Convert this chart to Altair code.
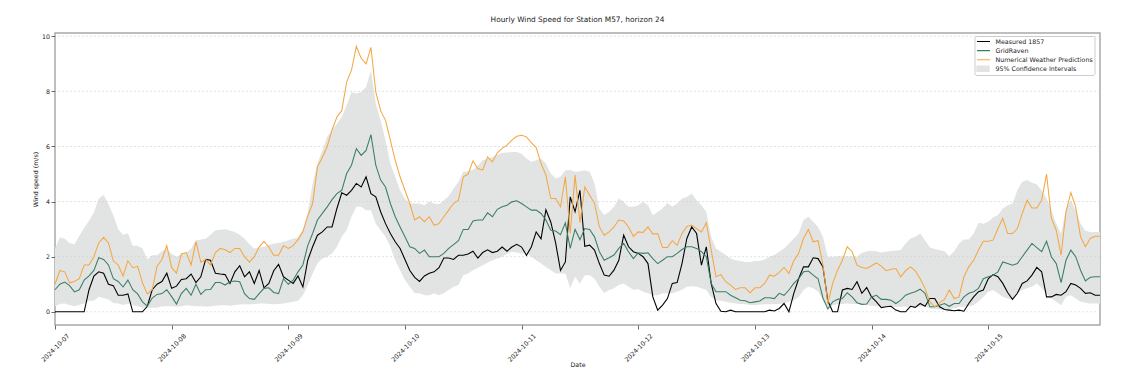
import altair as alt
import pandas as pd

# ---------------- data (hourly) ----------------
START = "2024-10-07 00:00"

measured = (
    [0, 0, 0, 0, 0, 0, 0, 0.8, 1.3, 1.45, 1.4, 1.0, 0.95, 0.6, 0.6, 0.65, 0, 0, 0, 0.2, 0.8, 1.0, 1.1, 1.4]
    + [0.85, 0.93, 1.17, 1.2, 1.37, 1.06, 1.27, 1.9, 1.87, 1.4, 1.37, 1.35, 1.03, 1.45, 1.67, 1.27, 1.45, 1.03, 1.5, 0.87, 1.03, 1.49, 1.72, 1.27]
    + [1.15, 1.03, 1.3, 0.9, 1.87, 2.36, 2.78, 2.9, 3.08, 3.08, 3.75, 4.32, 4.23, 4.41, 4.66, 4.53, 4.9, 4.29, 4.17, 3.63, 3.2, 2.84, 2.54, 2.3]
    + [1.9, 1.5, 1.25, 1.1, 1.3, 1.4, 1.45, 1.6, 1.95, 1.95, 1.9, 2.05, 2.05, 2.1, 2.2, 1.95, 2.15, 2.25, 2.15, 2.2, 2.35, 2.2, 2.35, 2.45]
    + [2.35, 2.05, 2.35, 2.9, 2.65, 3.7, 3.26, 2.5, 1.5, 1.81, 4.17, 3.63, 4.41, 2.38, 2.42, 2.24, 1.75, 1.33, 1.29, 1.51, 1.87, 2.78, 2.36, 2.18]
    + [2.12, 2.0, 1.75, 0.54, 0.06, 0.24, 0.48, 1.03, 1.06, 1.75, 2.66, 3.08, 2.84, 1.69, 2.36, 1.03, 0.3, 0.02, 0, 0.06, 0, 0, 0, 0]
    + [0, 0, 0, 0.06, 0.03, 0.12, 0.3, 0, 0.67, 1.2, 1.63, 1.63, 1.96, 1.93, 1.63, 0.4, 0, 0, 0.79, 0.85, 0.81, 1.09, 0.67, 0.88]
    + [0.54, 0.36, 0.15, 0.18, 0.2, 0.06, 0, 0, 0.2, 0.16, 0.3, 0.2, 0.48, 0.48, 0.18, 0.08, 0.06, 0.04, 0.06, 0.02, 0.3, 0.54, 0.73, 0.79]
    + [1.2, 1.35, 1.27, 1.03, 0.7, 0.45, 0.67, 1.03, 1.12, 1.33, 1.61, 1.45, 0.54, 0.54, 0.63, 0.6, 0.73, 1.03, 0.97, 0.85, 0.67, 0.69, 0.6, 0.6]
)

gridraven = (
    [0.8, 1.0, 1.08, 0.95, 0.72, 0.8, 1.15, 1.3, 1.5, 1.96, 1.9, 1.7, 1.2, 1.1, 0.9, 1.15, 0.8, 0.65, 0.36, 0.2, 0.5, 0.63, 0.66, 0.8]
    + [0.55, 0.28, 0.66, 0.85, 0.6, 1.0, 0.63, 0.8, 0.81, 1.06, 1.06, 0.97, 1.09, 1.12, 1.09, 0.66, 0.48, 0.45, 0.66, 0.85, 0.87, 0.7, 0.66, 1.2]
    + [1.0, 1.15, 1.45, 1.7, 2.4, 2.84, 3.33, 3.57, 3.81, 4.07, 4.29, 4.41, 5.02, 5.32, 5.92, 5.68, 5.86, 6.43, 5.32, 4.78, 4.53, 3.93, 3.45, 3.08]
    + [2.72, 2.36, 2.3, 2.12, 2.24, 2.0, 2.0, 2.0, 2.12, 2.3, 2.44, 2.58, 2.99, 2.99, 3.3, 3.33, 3.33, 3.59, 3.45, 3.72, 3.81, 3.87, 3.99, 4.03]
    + [3.93, 3.81, 3.69, 3.69, 3.57, 3.33, 2.96, 2.93, 2.8, 3.23, 2.3, 2.99, 2.62, 3.02, 2.99, 2.72, 2.18, 1.87, 1.96, 2.06, 2.3, 2.48, 2.18, 1.93]
    + [2.14, 2.12, 2.14, 1.93, 1.75, 1.87, 2.0, 2.0, 2.12, 2.26, 2.36, 2.36, 2.3, 2.18, 2.0, 1.03, 0.73, 0.73, 0.73, 0.6, 0.51, 0.42, 0.4, 0.33]
    + [0.36, 0.39, 0.51, 0.51, 0.48, 0.67, 0.6, 0.79, 1.03, 1.2, 1.45, 1.48, 1.33, 1.2, 0.5, 0.1, 0.36, 0.45, 0.48, 0.69, 0.54, 0.33, 0.27, 0.28]
    + [0.54, 0.6, 0.45, 0.45, 0.42, 0.3, 0.42, 0.6, 0.67, 0.73, 0.82, 0.67, 0.18, 0.18, 0.24, 0.3, 0.2, 0.3, 0.3, 0.54, 0.67, 0.73, 0.85, 1.2]
    + [1.27, 1.33, 1.45, 1.81, 1.75, 1.69, 1.75, 2.0, 2.24, 2.48, 2.33, 2.18, 2.56, 2.0, 1.75, 1.06, 1.87, 2.24, 2.0, 1.51, 1.12, 1.25, 1.27, 1.27]
)

nwp = (
    [1.0, 1.5, 1.45, 1.05, 1.1, 1.2, 1.7, 1.7, 2.0, 2.5, 2.7, 2.5, 1.85, 1.7, 1.3, 1.85, 1.6, 1.65, 1.05, 0.65, 0.8, 1.65, 1.9, 2.4]
    + [1.6, 1.4, 2.1, 2.15, 1.7, 2.55, 1.8, 1.9, 1.7, 2.15, 2.3, 2.25, 2.15, 2.3, 2.3, 2.0, 1.8, 2.0, 2.35, 2.55, 2.35, 2.05, 2.05, 2.4]
    + [2.3, 2.4, 2.62, 2.9, 3.47, 3.93, 5.26, 5.6, 6.0, 6.6, 7.07, 7.3, 8.34, 8.77, 9.64, 9.2, 9.0, 9.6, 7.98, 7.3, 6.95, 6.23, 5.5, 4.9]
    + [4.41, 3.93, 3.33, 3.45, 3.27, 3.45, 3.14, 3.2, 3.45, 3.69, 3.93, 4.05, 4.9, 5.0, 5.48, 5.2, 5.14, 5.62, 5.44, 5.77, 5.93, 6.05, 6.23, 6.37]
    + [6.41, 6.35, 6.14, 5.96, 5.38, 4.96, 4.11, 4.11, 3.81, 4.9, 2.84, 4.96, 3.23, 4.53, 4.23, 3.93, 3.08, 2.78, 2.9, 3.08, 3.33, 3.3, 3.08, 2.74]
    + [2.9, 2.88, 3.08, 2.82, 2.84, 2.33, 2.33, 2.58, 2.42, 2.84, 3.1, 3.15, 3.02, 2.9, 3.23, 2.24, 1.27, 1.35, 1.09, 0.97, 0.81, 0.87, 0.87, 0.69]
    + [0.87, 0.87, 1.03, 1.33, 1.29, 1.43, 1.61, 1.39, 1.85, 2.12, 2.66, 2.99, 2.54, 2.58, 1.7, 0.3, 1.03, 1.51, 1.87, 2.36, 2.18, 1.69, 1.61, 1.57]
    + [1.67, 1.78, 1.66, 1.49, 1.54, 1.57, 1.27, 1.49, 1.63, 1.49, 1.2, 0.85, 0.36, 0.18, 0.33, 0.45, 0.79, 0.48, 0.54, 1.27, 1.63, 1.87, 2.24, 2.56]
    + [2.56, 2.6, 3.02, 3.39, 2.84, 2.84, 3.02, 3.57, 4.05, 3.77, 3.77, 4.05, 5.0, 3.39, 2.96, 2.06, 3.63, 4.33, 3.81, 2.72, 2.36, 2.66, 2.74, 2.74]
)

ci_upper = (
    [2.3, 2.7, 2.65, 2.5, 2.45, 2.75, 3.05, 3.3, 3.6, 4.1, 4.25, 3.9, 3.5, 3.0, 2.8, 2.85, 2.4, 2.4, 2.3, 1.9, 2.05, 2.05, 2.2, 2.3]
    + [2.1, 2.0, 2.1, 2.15, 2.3, 2.6, 2.62, 2.65, 2.8, 2.96, 2.98, 3.0, 2.95, 2.9, 2.8, 2.65, 2.45, 2.3, 2.33, 2.36, 2.42, 2.48, 2.5, 2.54]
    + [2.6, 2.65, 2.7, 3.0, 3.6, 4.65, 5.4, 5.86, 6.35, 6.6, 6.83, 7.07, 7.5, 7.98, 7.92, 7.98, 8.16, 8.77, 7.56, 6.95, 6.23, 5.38, 4.9, 4.41]
    + [4.1, 3.93, 3.93, 3.93, 3.87, 4.0, 3.93, 3.9, 4.05, 4.2, 4.47, 4.72, 5.08, 5.1, 5.16, 5.3, 5.5, 5.55, 5.62, 5.7, 5.77, 5.78, 5.8, 5.8]
    + [5.74, 5.56, 5.44, 5.5, 5.56, 5.38, 5.02, 4.84, 4.9, 5.14, 5.15, 5.08, 5.1, 5.14, 5.08, 4.66, 3.75, 3.5, 3.63, 3.81, 4.11, 3.99, 3.81, 3.81]
    + [3.87, 3.99, 3.87, 3.5, 3.63, 3.75, 3.95, 3.81, 3.93, 4.11, 4.17, 4.29, 4.05, 3.87, 3.63, 2.72, 2.3, 2.18, 2.06, 1.93, 1.87, 1.84, 1.81, 1.81]
    + [1.84, 1.84, 1.9, 2.0, 2.06, 2.18, 2.3, 2.48, 2.66, 2.84, 3.33, 3.45, 3.27, 3.08, 2.72, 2.0, 2.0, 2.02, 2.02, 2.02, 2.02, 2.0, 2.14, 2.2]
    + [2.21, 2.2, 2.15, 2.18, 2.21, 2.22, 2.24, 2.48, 2.66, 2.72, 2.84, 2.6, 2.33, 2.28, 2.24, 2.2, 2.02, 2.2, 2.48, 2.62, 2.62, 2.84, 3.23, 3.2]
    + [3.27, 3.42, 3.51, 3.75, 3.87, 3.93, 4.41, 4.72, 4.78, 4.68, 4.63, 4.41, 4.11, 3.69, 3.2, 2.84, 3.75, 4.05, 3.69, 3.2, 2.94, 2.9, 2.9, 2.9]
)

ci_lower = (
    [0.2, 0.28, 0.3, 0.25, 0.2, 0.25, 0.3, 0.4, 0.4, 0.55, 0.5, 0.45, 0.32, 0.3, 0.25, 0.3, 0.25, 0.2, 0.15, 0.15, 0.15, 0.15, 0.2, 0.2]
    + [0.2, 0.18, 0.2, 0.24, 0.22, 0.2, 0.2, 0.18, 0.2, 0.22, 0.24, 0.24, 0.22, 0.25, 0.26, 0.27, 0.26, 0.28, 0.3, 0.3, 0.28, 0.27, 0.28, 0.3]
    + [0.33, 0.36, 0.4, 0.6, 0.95, 1.39, 1.75, 1.93, 2.0, 2.12, 2.36, 2.72, 2.96, 3.45, 3.81, 3.81, 3.69, 3.69, 3.2, 2.96, 2.72, 2.36, 1.87, 1.51]
    + [1.15, 0.91, 0.67, 0.67, 0.6, 0.6, 0.67, 0.6, 0.67, 0.79, 0.91, 0.97, 1.33, 1.39, 1.51, 1.6, 1.69, 1.78, 1.87, 1.93, 2.0, 2.1, 2.18, 2.15]
    + [2.12, 2.15, 2.0, 1.87, 1.75, 1.63, 1.51, 1.39, 1.39, 1.39, 0.85, 1.27, 1.03, 1.33, 1.33, 1.2, 0.91, 0.67, 0.79, 0.85, 0.97, 1.03, 0.91, 0.8]
    + [0.82, 0.73, 0.67, 0.6, 0.6, 0.67, 0.67, 0.67, 0.73, 0.8, 0.91, 0.93, 0.91, 0.85, 0.79, 0.54, 0.42, 0.4, 0.36, 0.33, 0.3, 0.28, 0.27, 0.25]
    + [0.24, 0.26, 0.27, 0.27, 0.27, 0.28, 0.3, 0.36, 0.42, 0.54, 0.79, 0.91, 0.85, 0.73, 0.42, 0.1, 0.24, 0.28, 0.28, 0.3, 0.28, 0.28, 0.26, 0.24]
    + [0.22, 0.2, 0.2, 0.18, 0.18, 0.18, 0.18, 0.18, 0.18, 0.18, 0.18, 0.2, 0.12, 0.1, 0.08, 0.08, 0.1, 0.12, 0.18, 0.18, 0.2, 0.24, 0.36, 0.54]
    + [0.73, 0.79, 0.67, 0.54, 0.48, 0.42, 0.67, 0.79, 0.85, 0.91, 1.03, 0.85, 0.67, 0.48, 0.36, 0.24, 0.54, 0.6, 0.48, 0.36, 0.33, 0.3, 0.3, 0.3]
)

SERIES = ["Measured 1857", "GridRaven", "Numerical Weather Predictions", "95% Confidence Intervals"]
COLORS = ["#000000", "#3a7f63", "#f4a640", "#e2e4e4"]
WIDTHS = [1.1, 1.0, 1.0, 1.0]
BAND_COLOR = "#e2e4e4"
Y_TICKS = [0, 2, 4, 6, 8, 10]
TICK_DAYS = [7, 8, 9, 10, 11, 12, 13, 14, 15]

# ---------------- tables ----------------
times = pd.date_range(START, periods=len(measured), freq="h").strftime("%Y-%m-%dT%H:%M:%S")
wide = pd.DataFrame({
    "time": times,
    SERIES[0]: measured,
    SERIES[1]: gridraven,
    SERIES[2]: nwp,
    "lower": ci_lower,
    "upper": ci_upper,
})
wide["band"] = SERIES[3]
long = wide.melt(id_vars=["time"], value_vars=SERIES[:3], var_name="series", value_name="speed")

FONT = "DejaVu Sans"

xscale = alt.Scale(
    domain=[alt.DateTime(year=2024, month=10, date=7, hours=0),
            alt.DateTime(year=2024, month=10, date=15, hours=23)],
    nice=False,
)
yscale = alt.Scale(domain=[-0.48, 10.12], nice=False, zero=False)

xaxis = alt.Axis(
    title="Date", values=[alt.DateTime(year=2024, month=10, date=d) for d in TICK_DAYS],
    format="%Y-%m-%d", labelAngle=315, labelAlign="center", labelBaseline="middle",
    labelPadding=18.5, labelFlush=False, labelOverlap=False, labelBound=False,
    grid=False, domain=False, tickSize=4, tickColor="#444444", tickWidth=0.8,
    labelFontSize=6.3, labelFont=FONT, labelColor="#222222",
    titleFontSize=6.3, titleFont=FONT, titleFontWeight="normal", titleColor="#222222",
    titleY=39, titleBaseline="middle",
)
yaxis = alt.Axis(
    title="Wind speed (m/s)", values=Y_TICKS, grid=False, domain=False,
    tickSize=4, tickColor="#444444", tickWidth=0.8,
    labelFontSize=6.3, labelFont=FONT, labelColor="#222222", labelPadding=1.5,
    titleFontSize=6.3, titleFont=FONT, titleFontWeight="normal", titleColor="#222222",
    titlePadding=3,
)

LEG_X = 919.5
LEG_Y = 3

# legend with all four entries (framed box)
legend_main = alt.Legend(
    title=None, orient="none", legendX=LEG_X, legendY=LEG_Y,
    symbolType="stroke", symbolSize=170, symbolStrokeWidth=1.2,
    labelFontSize=6.3, labelFont=FONT, labelColor="#222222",
    strokeColor="#cccccc", padding=1.5, cornerRadius=2,
    rowPadding=1.1, clipHeight=8, labelOffset=4.5,
)
# patch for the confidence band, laid over the fourth entry of the box
legend_band = alt.Legend(
    title=None, orient="none", legendX=LEG_X, legendY=LEG_Y + 27.3,
    symbolType="M-1,-0.42H1V0.42H-1Z", symbolSize=140,
    symbolStrokeColor=BAND_COLOR, symbolStrokeWidth=1.5,
    labelFontSize=6.3, labelFont=FONT, labelOpacity=0,
    padding=1.5, clipHeight=8, labelOffset=4.5,
)

color = alt.Color("series:N", scale=alt.Scale(domain=SERIES, range=COLORS), legend=legend_main)
swidth = alt.StrokeWidth("series:N", scale=alt.Scale(domain=SERIES, range=WIDTHS), legend=None)
fill = alt.Fill("band:N", scale=alt.Scale(domain=[SERIES[3]], range=[BAND_COLOR]), legend=legend_band)

X = alt.X("time:T", scale=xscale, axis=xaxis)

band = alt.Chart(wide).mark_area(interpolate="linear").encode(
    x=X,
    y=alt.Y("lower:Q", scale=yscale, axis=yaxis),
    y2="upper:Q",
    fill=fill,
)

grid = alt.Chart(pd.DataFrame({"tick": Y_TICKS})).mark_rule(
    strokeDash=[2, 2], color="#cfcfcf", strokeWidth=0.6
).encode(y=alt.Y("tick:Q", scale=yscale, axis=yaxis))

lines = alt.Chart(long).mark_line(interpolate="linear").encode(
    x=X,
    y=alt.Y("speed:Q", scale=yscale, axis=yaxis),
    color=color,
    strokeWidth=swidth,
)

chart = alt.layer(band, grid, lines).properties(
    width=1045, height=292,
    title=alt.TitleParams(
        "Hourly Wind Speed for Station M57, horizon 24", fontSize=7.4, font=FONT,
        fontWeight="normal", color="#222222", offset=9.5, anchor="middle",
    ),
    padding={"left": 24, "top": 8, "right": 5, "bottom": 5},
).configure_view(stroke="#a9a9a9", strokeWidth=1.5)

chart.save("out.html", embed_options={"renderer": "svg", "actions": False})
